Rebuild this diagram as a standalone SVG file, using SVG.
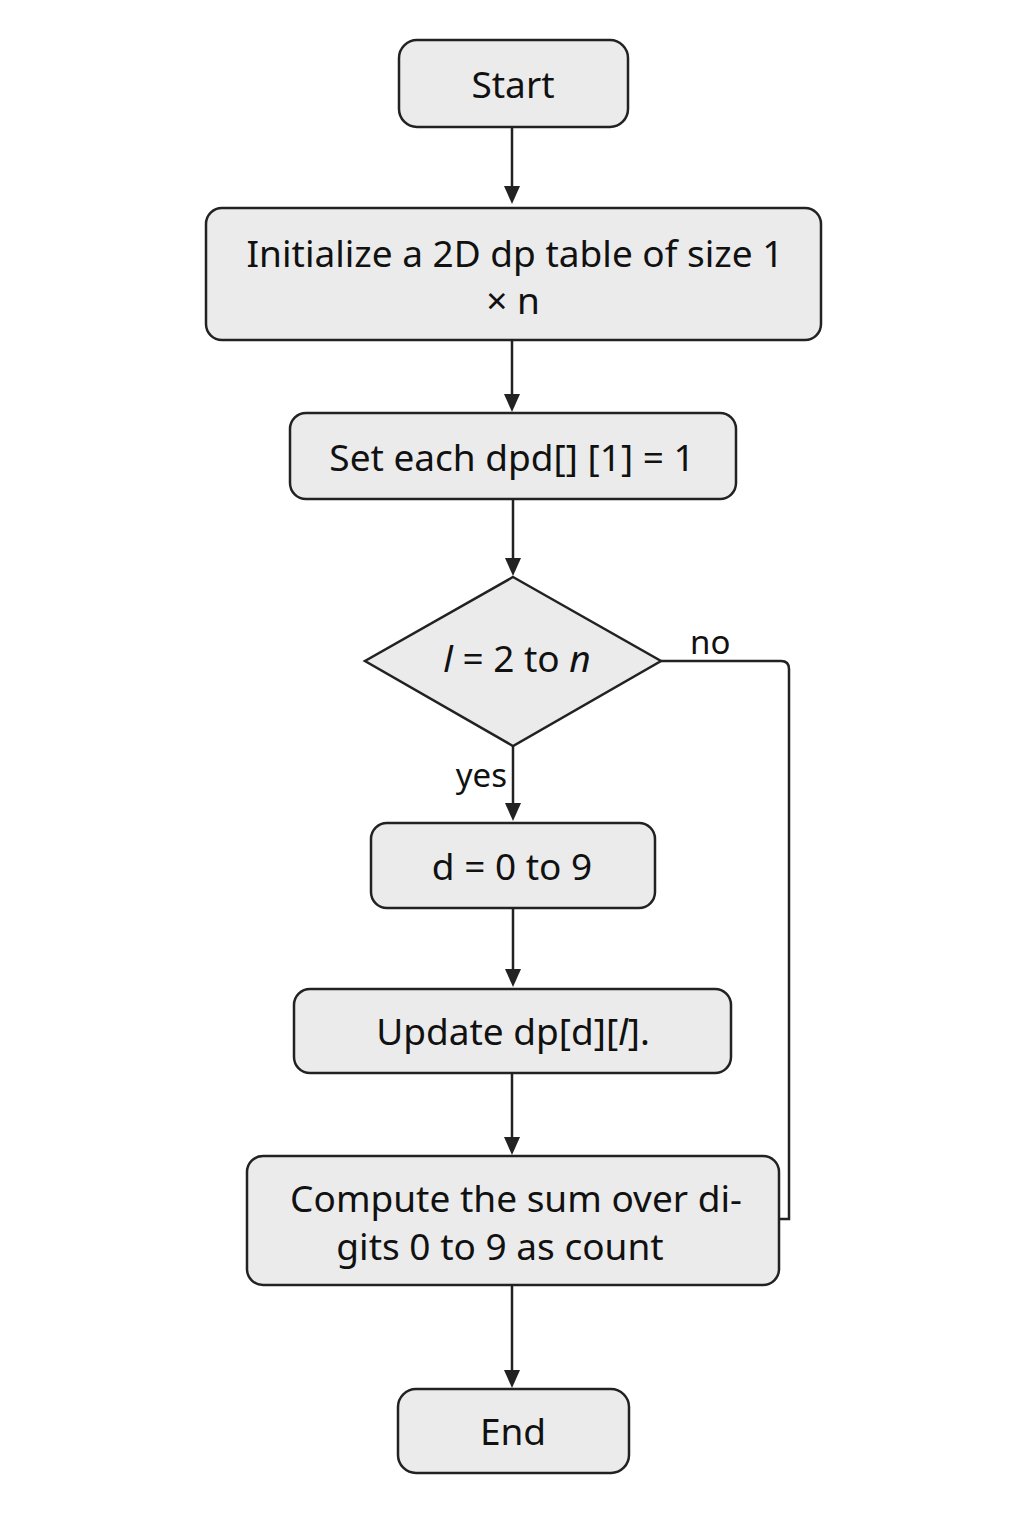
<svg xmlns="http://www.w3.org/2000/svg" width="1024" height="1536" viewBox="0 0 1024 1536">
<defs>
<style>
.node{fill:#ebebeb;stroke:#222;stroke-width:2.5}
.t{font-family:"Noto Sans","Open Sans",sans-serif;font-size:37px;fill:#111;text-anchor:middle;dominant-baseline:central}
.lbl{font-family:"Noto Sans","Open Sans",sans-serif;font-size:33px;fill:#111;dominant-baseline:central}
.e{fill:none;stroke:#222;stroke-width:2.5}
.ah{fill:#222}
</style>
</defs>
<rect width="1024" height="1536" fill="#fff"/>
<g id="connectors">
<path class="e" d="M512 127 V196"/>
<path class="ah" d="M504 186 L520 186 L512 204 Z"/>
<path class="e" d="M512 340 V404"/>
<path class="ah" d="M504 394 L520 394 L512 412 Z"/>
<path class="e" d="M513 499 V568"/>
<path class="ah" d="M505 558 L521 558 L513 576 Z"/>
<path class="e" d="M513 746 V813"/>
<path class="ah" d="M505 803 L521 803 L513 821 Z"/>
<path class="e" d="M513 908 V979"/>
<path class="ah" d="M505 969 L521 969 L513 987 Z"/>
<path class="e" d="M512 1073 V1147"/>
<path class="ah" d="M504 1137 L520 1137 L512 1155 Z"/>
<path class="e" d="M512 1285 V1380"/>
<path class="ah" d="M504 1370 L520 1370 L512 1388 Z"/>
<path class="e" d="M661 661 H781 Q789 661 789 669 V1219 H779"/>
<text class="lbl" x="690" y="641">no</text>
<text class="lbl" x="507" y="774" text-anchor="end">yes</text>
</g>
<g id="start">
<rect class="node" x="399" y="40" width="229" height="87" rx="18"/>
<text class="t" x="513" y="83">Start</text>
</g>
<g id="init">
<rect class="node" x="206" y="208" width="615" height="132" rx="16"/>
<text class="t" x="515" y="252">Initialize a 2D dp table of size 1</text>
<text class="t" x="513" y="299">× n</text>
</g>
<g id="set">
<rect class="node" x="290" y="413" width="446" height="86" rx="16"/>
<text class="t" x="512" y="456">Set each dpd[] [1] = 1</text>
</g>
<g id="loopl">
<polygon class="node" points="513,577 661,661 513,746 365,661"/>
<text class="t" x="517" y="657"><tspan font-style="italic">l</tspan> = 2 to <tspan font-style="italic">n</tspan></text>
</g>
<g id="loopd">
<rect class="node" x="371" y="823" width="284" height="85" rx="16"/>
<text class="t" x="512" y="865">d = 0 to 9</text>
</g>
<g id="update">
<rect class="node" x="294" y="989" width="437" height="84" rx="16"/>
<text class="t" x="513" y="1030">Update dp[d][<tspan font-style="italic">l</tspan>].</text>
</g>
<g id="compute">
<rect class="node" x="247" y="1156" width="532" height="129" rx="16"/>
<text class="t" x="516" y="1197">Compute the sum over di-</text>
<text class="t" x="500" y="1245">gits 0 to 9 as count</text>
</g>
<g id="end">
<rect class="node" x="398" y="1389" width="231" height="84" rx="18"/>
<text class="t" x="513" y="1430">End</text>
</g>
</svg>
